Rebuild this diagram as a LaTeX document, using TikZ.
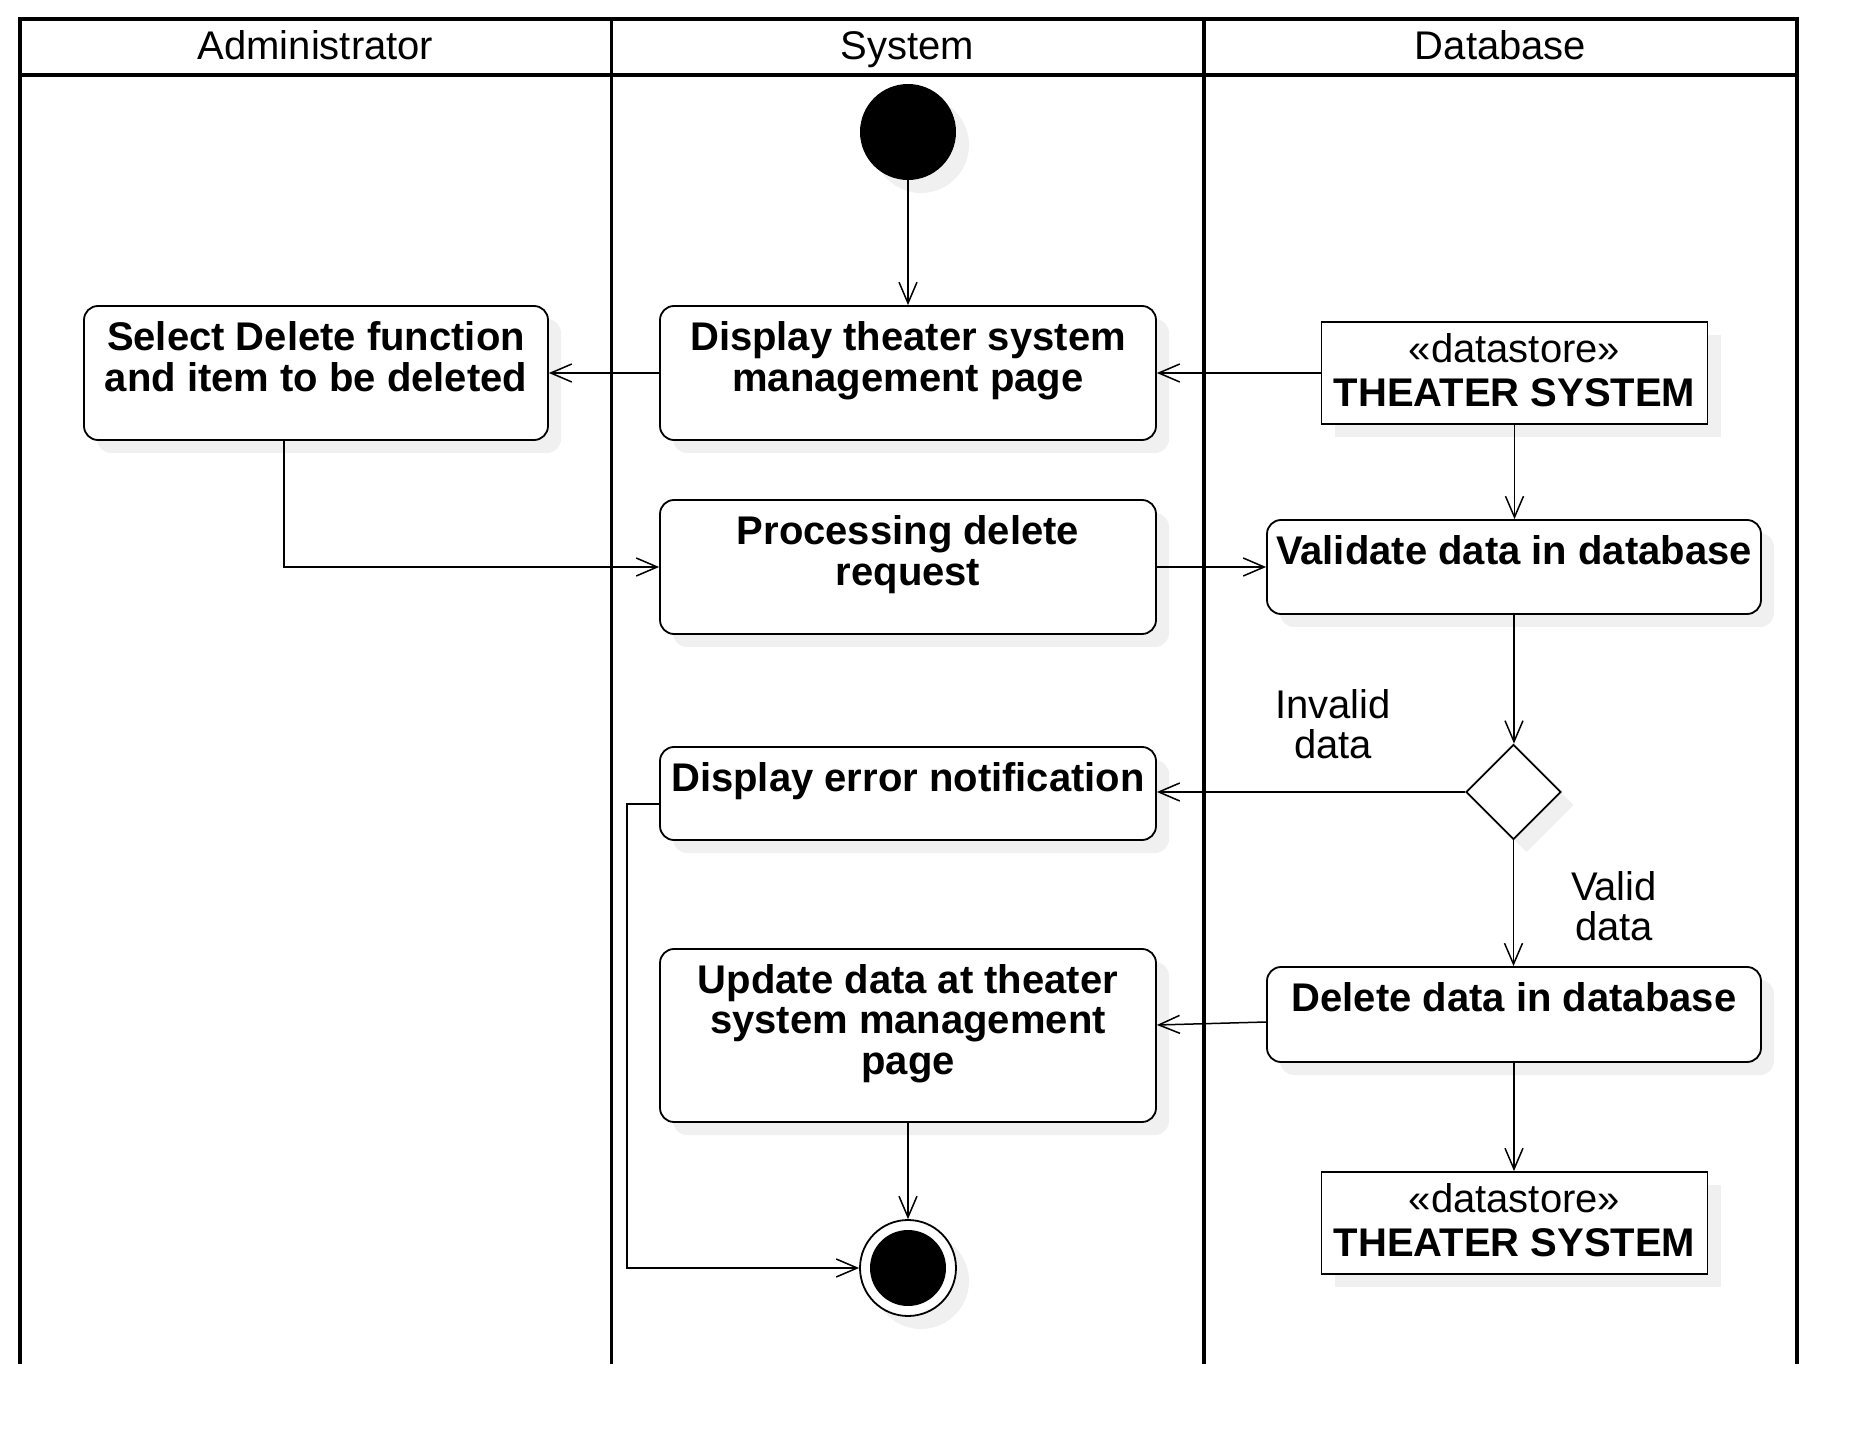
\documentclass[tikz,border=0pt]{standalone}
\usepackage{fontspec}
\setmainfont{Liberation Sans}
\usetikzlibrary{arrows.meta,shapes.geometric,shadows,calc}
\definecolor{shc}{RGB}{240,240,240}
\begin{document}
\begin{tikzpicture}[x=0.5pt,y=-0.5pt,
  lane/.style={line width=1.75pt},
  shad/.style={drop shadow={shadow xshift=6.5pt,shadow yshift=-6.5pt,fill=shc,opacity=1}},
  act/.style={draw,line width=0.9pt,rounded corners=7pt,fill=white,shad,inner sep=0pt,minimum width=248pt},
  store/.style={draw,line width=0.9pt,fill=white,shad,inner sep=0pt,minimum width=193pt,minimum height=51pt},
  atext/.style={anchor=north,inner sep=0pt,align=center,font=\bfseries\fontsize{20pt}{20.3pt}\selectfont},
  stext/.style={anchor=north,inner sep=0pt,align=center,font=\fontsize{20pt}{22pt}\selectfont},
  lbl/.style={anchor=north,inner sep=0pt,align=center,font=\fontsize{20pt}{20pt}\selectfont},
  head/.style={anchor=base,inner sep=0pt,font=\fontsize{20pt}{24pt}\selectfont},
  conn/.style={line width=0.75pt,-{Straight Barb[length=10.5pt,width=9pt]}}
]
\useasboundingbox (0,0) rectangle (1876,1444);
% swimlanes
\draw[lane] (20,1364) -- (20,19) -- (1797,19) -- (1797,1364);
\draw[lane] (20,75) -- (1797,75);
\draw[lane] (611.5,19) -- (611.5,1364);
\draw[lane] (1204,19) -- (1204,1364);
\node[head] (h1) at (315.5,60) {Administrator};
\node[head] (h2) at (907.5,60) {System};
\node[head] (h3) at (1500.5,60) {Database};
% nodes
\node[circle,fill=black,minimum size=48pt,inner sep=0pt,shad] (start) at (908,132) {};
\node[act,minimum width=232pt,minimum height=67pt] (sel) at (316,373) {};
\node[atext] at (sel.north) {\rule{0pt}{22.6pt}Select Delete function\\and item to be deleted};
\node[act,minimum height=67pt] (disp) at (908,373) {};
\node[atext] at (disp.north) {\rule{0pt}{22.6pt}Display theater system\\management page};
\node[store] (ds1) at (1514.5,373) {};
\node[stext] at (ds1.north) {\rule{0pt}{20.6pt}«datastore»\\\textbf{THEATER SYSTEM}};
\node[act,minimum height=67pt] (proc) at (908,567) {};
\node[atext] at (proc.north) {\rule{0pt}{22.6pt}Processing delete\\request};
\node[act,minimum width=247pt,minimum height=47pt] (val) at (1514,567) {};
\node[atext] at (val.north) {\rule{0pt}{22.6pt}Validate data in database};
\node[diamond,draw,line width=0.9pt,fill=white,shad,inner sep=0pt,minimum width=47.5pt,minimum height=47.5pt] (dia) at (1513.5,792) {};
\node[act,minimum height=46.5pt] (err) at (908,793.5) {};
\node[atext] at (err.north) {\rule{0pt}{22.3pt}Display error notification};
\node[act,minimum height=86.5pt] (upd) at (908,1035.5) {};
\node[atext] at (upd.north) {\rule{0pt}{22.3pt}Update data at theater\\system management\\page};
\node[act,minimum width=247pt,minimum height=47.5pt] (del) at (1514,1014.5) {};
\node[atext] at (del.north) {\rule{0pt}{22.6pt}Delete data in database};
\node[store] (ds2) at (1514.5,1223) {};
\node[stext] at (ds2.north) {\rule{0pt}{20.6pt}«datastore»\\\textbf{THEATER SYSTEM}};
\node[circle,draw,line width=0.9pt,fill=white,minimum size=48pt,inner sep=0pt,shad] (end) at (908,1268) {};
\node[circle,fill=black,minimum size=38pt,inner sep=0pt] (endin) at (end.center) {};
% labels
\node[lbl] (linv) at (1333,678) {\rule{0pt}{20pt}Invalid\\data};
\node[lbl] (lval) at (1614,860) {\rule{0pt}{20pt}Valid\\data};
% connectors
\draw[conn] (start.south) -- (disp.north);
\draw[conn] (disp.west) -- (sel.east);
\draw[conn] (ds1.west) -- (disp.east);
\draw[conn] (ds1.south) -- (ds1.south |- val.north);
\draw[conn] ([xshift=-16pt]sel.south) |- (proc.west);
\draw[conn] (proc.east) -- (val.west);
\draw[conn] (val.south) -- (val.south |- dia.north);
\draw[conn] (dia.west) -- (dia.west -| err.east);
\draw[conn] (dia.south) -- (dia.south |- del.north);
\draw[conn] ([yshift=-3.75pt]del.west) -- ([yshift=5.25pt]upd.east);
\draw[conn] (del.south) -- (del.south |- ds2.north);
\draw[conn] (upd.south) -- (end.north);
\draw[conn] ([yshift=-5.25pt]err.west) -- ++(-32,0) |- (end.west);
\end{tikzpicture}
\end{document}
